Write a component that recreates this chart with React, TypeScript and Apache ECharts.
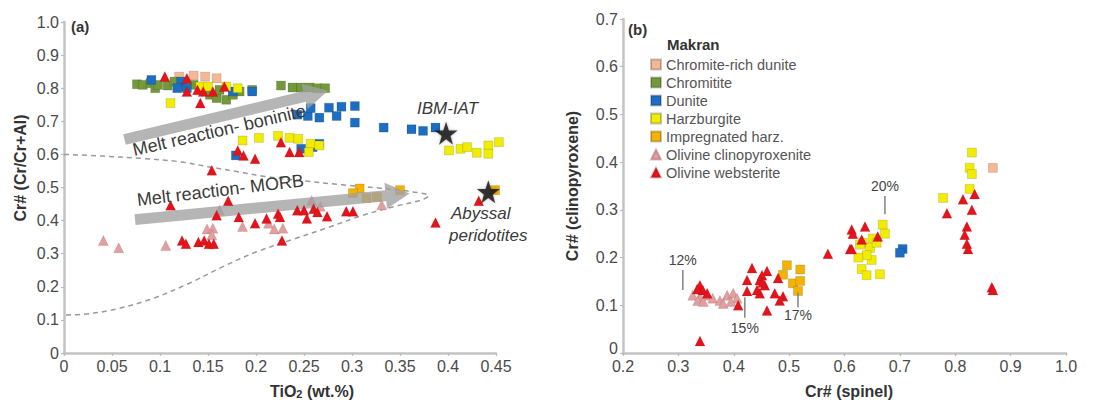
import React, { useEffect, useRef } from "react";
import * as echarts from "echarts";

const FONT = '"Liberation Sans", Arial, Helvetica, sans-serif';

// ---------- Panel (a): TiO2 (wt.%) vs Cr# (Cr/Cr+Al) ----------
const chromiteRichDuniteA = [[0.12, 0.835], [0.147, 0.835], [0.159, 0.83], [0.135, 0.838]];
const chromititeA = [
  [0.076, 0.812], [0.082, 0.81], [0.09, 0.815], [0.095, 0.8], [0.098, 0.81], [0.108, 0.808], [0.115, 0.82],
  [0.125, 0.805], [0.135, 0.81], [0.145, 0.8], [0.152, 0.78], [0.159, 0.77], [0.162, 0.795], [0.169, 0.765],
  [0.176, 0.78], [0.196, 0.795], [0.226, 0.808], [0.238, 0.802], [0.247, 0.802], [0.256, 0.802], [0.264, 0.8],
  [0.272, 0.8], [0.183, 0.79],
];
const duniteA = [
  [0.091, 0.825], [0.122, 0.82], [0.128, 0.8], [0.118, 0.8], [0.176, 0.79], [0.196, 0.79], [0.179, 0.597],
  [0.276, 0.741], [0.289, 0.744], [0.303, 0.746], [0.254, 0.716], [0.266, 0.711], [0.284, 0.716], [0.303, 0.696],
  [0.333, 0.681], [0.362, 0.676], [0.374, 0.671], [0.387, 0.681], [0.259, 0.622], [0.266, 0.632], [0.247, 0.617],
  [0.257, 0.74], [0.243, 0.72],
];
const harzburgiteA = [
  [0.111, 0.755], [0.142, 0.805], [0.15, 0.805], [0.169, 0.805], [0.181, 0.8], [0.186, 0.642], [0.203, 0.65],
  [0.223, 0.656], [0.235, 0.65], [0.244, 0.647], [0.257, 0.632], [0.255, 0.607], [0.266, 0.627],
  [0.401, 0.612], [0.413, 0.617], [0.42, 0.622], [0.43, 0.605], [0.442, 0.627], [0.442, 0.602], [0.453, 0.637],
];
const impregnatedA = [[0.308, 0.497], [0.301, 0.483], [0.35, 0.492], [0.449, 0.492], [0.315, 0.468], [0.326, 0.471]];
const olClinopyroxeniteA = [
  [0.041, 0.34], [0.057, 0.318], [0.106, 0.325], [0.149, 0.375], [0.155, 0.377], [0.154, 0.357], [0.162, 0.431],
  [0.186, 0.382], [0.213, 0.392], [0.219, 0.375], [0.228, 0.377], [0.258, 0.461], [0.267, 0.443], [0.331, 0.448],
];
const olWebsteriteA = [
  [0.105, 0.835], [0.128, 0.83], [0.128, 0.79], [0.139, 0.795], [0.145, 0.79], [0.155, 0.79], [0.167, 0.805],
  [0.142, 0.755], [0.181, 0.612], [0.187, 0.597], [0.199, 0.587], [0.226, 0.637], [0.235, 0.607], [0.245, 0.607],
  [0.154, 0.552], [0.111, 0.446], [0.171, 0.46], [0.159, 0.416], [0.182, 0.411], [0.199, 0.392], [0.211, 0.406],
  [0.223, 0.421], [0.225, 0.411], [0.243, 0.431], [0.25, 0.431], [0.253, 0.406], [0.26, 0.436], [0.264, 0.426],
  [0.274, 0.413], [0.294, 0.428], [0.301, 0.428], [0.123, 0.34], [0.127, 0.33], [0.14, 0.335], [0.146, 0.34],
  [0.151, 0.33], [0.156, 0.33], [0.227, 0.34], [0.387, 0.394], [0.432, 0.46],
];
const starsA = [[0.398, 0.664], [0.442, 0.487]];
const meltArrowsA = [
  [0.063, 0.645, 0.275, 0.792],
  [0.074, 0.403, 0.36, 0.482],
];
const envelopeA = [
  [0, 0.6], [0.04, 0.595], [0.08, 0.588], [0.12, 0.578], [0.15, 0.563], [0.18, 0.548], [0.21, 0.533],
  [0.25, 0.52], [0.29, 0.508], [0.33, 0.498], [0.36, 0.488], [0.38, 0.475], [0.372, 0.462], [0.345, 0.443],
  [0.31, 0.415], [0.276, 0.38], [0.24, 0.345], [0.2, 0.305], [0.165, 0.26], [0.13, 0.21], [0.09, 0.162],
  [0.05, 0.13], [0.02, 0.117], [0, 0.115],
];

// ---------- Panel (b): Cr# (spinel) vs Cr# (clinopyroxene) ----------
const chromiteRichDuniteB = [[0.868, 0.388]];
const duniteB = [[0.705, 0.218], [0.7, 0.21]];
const harzburgiteB = [
  [0.669, 0.269], [0.673, 0.25], [0.651, 0.24], [0.633, 0.231], [0.628, 0.227], [0.646, 0.22], [0.658, 0.231],
  [0.649, 0.195], [0.631, 0.176], [0.64, 0.163], [0.664, 0.165], [0.64, 0.205], [0.625, 0.2],
  [0.83, 0.42], [0.826, 0.388], [0.83, 0.375], [0.826, 0.344], [0.778, 0.325],
];
const impregnatedB = [[0.496, 0.184], [0.52, 0.175], [0.489, 0.164], [0.507, 0.146], [0.52, 0.151], [0.516, 0.13]];
const olClinopyroxeniteB = [
  [0.326, 0.121], [0.339, 0.117], [0.352, 0.121], [0.362, 0.115], [0.335, 0.11], [0.375, 0.11],
  [0.388, 0.121], [0.399, 0.125], [0.406, 0.115], [0.381, 0.104], [0.345, 0.108], [0.395, 0.108],
];
const olWebsteriteB = [
  [0.339, 0.142], [0.344, 0.132], [0.352, 0.125], [0.334, 0.134], [0.433, 0.178], [0.424, 0.153], [0.424, 0.13],
  [0.408, 0.1], [0.447, 0.153], [0.447, 0.125], [0.46, 0.172], [0.46, 0.089], [0.48, 0.157], [0.474, 0.125],
  [0.489, 0.119], [0.483, 0.11], [0.451, 0.163], [0.456, 0.142], [0.442, 0.132], [0.452, 0.148], [0.339, 0.025],
  [0.57, 0.208], [0.61, 0.218], [0.613, 0.259], [0.615, 0.25], [0.637, 0.265], [0.631, 0.238], [0.66, 0.244],
  [0.613, 0.218], [0.814, 0.322], [0.835, 0.333], [0.83, 0.3], [0.785, 0.293], [0.821, 0.265], [0.817, 0.248],
  [0.821, 0.229], [0.823, 0.218], [0.866, 0.138], [0.868, 0.132],
];
const meltingLabels = ["12%", "15%", "17%", "20%"];
const meltingX = [0.308, 0.42, 0.516, 0.673];
const meltingLineTop = [0.174, 0.117, 0.127, 0.329];
const meltingLineBottom = [0.132, 0.074, 0.096, 0.291];
const meltingTextY = [0.195, 0.053, 0.079, 0.35];

const legendNames = [
  "Chromite-rich dunite", "Chromitite", "Dunite", "Harzburgite", "Impregnated harz.",
  "Olivine clinopyroxenite", "Olivine websterite",
];
const xTicksA = { min: 0, max: 0.45, interval: 0.05 };
const yTicksA = { min: 0, max: 1, interval: 0.1 };
const xTicksB = { min: 0.2, max: 1.0, interval: 0.1 };
const yTicksB = { min: 0, max: 0.7, interval: 0.1 };

const COL = {
  chromRich: "#f6b894",
  chromitite: "#72993a",
  dunite: "#1d6ec2",
  harz: "#f1ec00",
  impreg: "#f3b300",
  olCpx: "#dea0a0",
  olWeb: "#e3141b",
};

const STAR = "path://M50,0 L61.8,35.1 L98.9,35.1 L68.8,57.3 L79.4,92.7 L50,71 L20.6,92.7 L31.2,57.3 L1.1,35.1 L38.2,35.1 Z";

function square(name: string, data: number[][], color: string, idx: number) {
  return {
    type: "scatter", name, data, xAxisIndex: idx, yAxisIndex: idx, symbol: "rect", symbolSize: 9, clip: false,
    itemStyle: { color, borderColor: "rgba(0,0,0,0.22)", borderWidth: 0.6, opacity: 1 }, z: 2, silent: true,
  };
}
function triangle(name: string, data: number[][], color: string, idx: number, z: number) {
  return {
    type: "scatter", name, data, xAxisIndex: idx, yAxisIndex: idx, symbol: "triangle", symbolSize: 10, clip: false,
    itemStyle: { color, borderColor: "rgba(120,0,0,0.25)", borderWidth: 0.5, opacity: 1 }, z, silent: true,
  };
}

function axisCommon(fmt: (v: number) => string, rich: any = undefined) {
  return {
    type: "value",
    axisLine: { show: true, onZero: false, lineStyle: { color: "#c3c3c3", width: 2.5 } },
    axisTick: { show: true, length: 3, lineStyle: { color: "#bbb", width: 1.2 } },
    splitLine: { show: false },
    axisLabel: { color: "#4a4a4a", fontSize: 16, fontFamily: FONT, margin: 5, formatter: fmt, rich },
  };
}

export default function App() {
  const ref = useRef<HTMLDivElement>(null);
  useEffect(() => {
    const chart = echarts.init(ref.current!, null, { renderer: "svg" });
    const arrowRender = (params: any, api: any) => {
      const p1 = api.coord([api.value(0), api.value(1)]);
      const p2 = api.coord([api.value(2), api.value(3)]);
      const dx = p2[0] - p1[0], dy = p2[1] - p1[1];
      const len = Math.hypot(dx, dy);
      const ux = dx / len, uy = dy / len;
      const nx = -uy, ny = ux;
      const hw = 5.5, headLen = 24, headW = 13;
      const bx = p2[0] - ux * headLen, by = p2[1] - uy * headLen;
      const pts = [
        [p1[0] + nx * hw, p1[1] + ny * hw],
        [bx + nx * hw, by + ny * hw],
        [bx + nx * headW, by + ny * headW],
        [p2[0], p2[1]],
        [bx - nx * headW, by - ny * headW],
        [bx - nx * hw, by - ny * hw],
        [p1[0] - nx * hw, p1[1] - ny * hw],
      ];
      return { type: "polygon", shape: { points: pts }, style: { fill: "rgba(160,160,160,0.78)" } };
    };
    const meltRender = (params: any, api: any) => {
      const i = params.dataIndex;
      const a = api.coord([api.value(0), api.value(1)]);
      const b = api.coord([api.value(0), api.value(2)]);
      const t = api.coord([api.value(0), api.value(3)]);
      return {
        type: "group",
        children: [
          { type: "line", shape: { x1: a[0], y1: a[1], x2: b[0], y2: b[1] }, style: { stroke: "#8a8a8a", lineWidth: 1.6 } },
          {
            type: "text", x: t[0], y: t[1],
            style: {
              text: meltingLabels[i], fill: "#444", font: `14px ${FONT}`,
              align: "center", verticalAlign: "middle", textAlign: "center", textVerticalAlign: "middle",
            },
          },
        ],
      };
    };
    const meltData = meltingX.map((x, i) => [x, meltingLineTop[i], meltingLineBottom[i], meltingTextY[i]]);
    const txt = (x: number, y: number, text: string, font: string, extra: any = {}) => ({
      type: "text", x, y, silent: true, z: 50, ...extra,
      style: { text, font, fill: "#333", align: "left", verticalAlign: "middle", textAlign: "left", textVerticalAlign: "middle", ...(extra.style || {}) },
    });

    const option: any = {
      animation: false,
      textStyle: { fontFamily: FONT },
      grid: [
        { left: 64, top: 22, width: 432, height: 331 },
        { left: 623, top: 19, width: 443, height: 334 },
      ],
      xAxis: [
        { gridIndex: 0, ...xTicksA, ...axisCommon((v) => (v === 0 ? "0" : String(+v.toFixed(2)))) },
        { gridIndex: 1, ...xTicksB, ...axisCommon((v) => v.toFixed(1)) },
      ],
      yAxis: [
        { gridIndex: 0, ...yTicksA, ...axisCommon((v) => (v === 0 ? "0" : v.toFixed(1))) },
        {
          gridIndex: 1, ...yTicksB,
          ...axisCommon((v) => (v === 0 ? "{z|0}" : v.toFixed(1)), {
            z: { fontSize: 16, color: "#4a4a4a", fontFamily: FONT, padding: [0, 0, 10, 0] },
          }),
          name: "Cr# (clinopyroxene)", nameLocation: "middle", nameGap: 43,
          nameTextStyle: { fontSize: 16, fontWeight: "bold", color: "#333", fontFamily: FONT },
        },
      ],
      legend: {
        data: legendNames, orient: "vertical", left: 650, top: 57, itemWidth: 10, itemHeight: 10, itemGap: 3,
        padding: 0, selectedMode: false,
        textStyle: { fontSize: 14.5, color: "#555", fontFamily: FONT, lineHeight: 15 },
      },
      series: [
        {
          type: "line", data: envelopeA, xAxisIndex: 0, yAxisIndex: 0, smooth: 0.35, symbol: "none", silent: true, z: 1,
          lineStyle: { color: "#9a9a9a", width: 1.5, type: [5, 4] },
        },
        square("Chromite-rich dunite", chromiteRichDuniteA, COL.chromRich, 0),
        square("Chromitite", chromititeA, COL.chromitite, 0),
        square("Dunite", duniteA, COL.dunite, 0),
        square("Harzburgite", harzburgiteA, COL.harz, 0),
        square("Impregnated harz.", impregnatedA, COL.impreg, 0),
        triangle("Olivine clinopyroxenite", olClinopyroxeniteA, COL.olCpx, 0, 2),
        {
          type: "custom", data: meltArrowsA, xAxisIndex: 0, yAxisIndex: 0, renderItem: arrowRender, silent: true,
          encode: { x: [0, 2], y: [1, 3] }, z: 3, clip: false,
        },
        triangle("Olivine websterite", olWebsteriteA, COL.olWeb, 0, 4),
        {
          type: "scatter", data: starsA, xAxisIndex: 0, yAxisIndex: 0, symbol: STAR, symbolSize: 23, silent: true, z: 5,
          itemStyle: { color: "#111", shadowBlur: 3, shadowColor: "rgba(0,0,0,0.4)" },
        },
        square("Chromite-rich dunite", chromiteRichDuniteB, COL.chromRich, 1),
        square("Dunite", duniteB, COL.dunite, 1),
        square("Harzburgite", harzburgiteB, COL.harz, 1),
        square("Impregnated harz.", impregnatedB, COL.impreg, 1),
        triangle("Olivine clinopyroxenite", olClinopyroxeniteB, COL.olCpx, 1, 2),
        triangle("Olivine websterite", olWebsteriteB, COL.olWeb, 1, 4),
        {
          type: "custom", data: meltData, xAxisIndex: 1, yAxisIndex: 1, renderItem: meltRender, silent: true,
          encode: { x: 0, y: [1, 2] }, z: 6, clip: false,
        },
      ],
      graphic: [
        txt(71, 26, "(a)", `bold 15px ${FONT}`),
        txt(628, 29, "(b)", `bold 15px ${FONT}`),
        txt(667, 44, "Makran", `bold 15px ${FONT}`),
        txt(20, 168, "Cr# (Cr/Cr+Al)", `bold 16px ${FONT}`, {
          rotation: Math.PI / 2,
          style: { align: "center", textAlign: "center" },
        }),
        {
          type: "text", x: 312, y: 391, silent: true,
          style: {
            text: "{a|TiO}{b|2}{a| (wt.%)}", align: "center", verticalAlign: "middle", textAlign: "center", textVerticalAlign: "middle",
            rich: {
              a: { font: `bold 16px ${FONT}`, fill: "#333", color: "#333" },
              b: { font: `bold 11px ${FONT}`, fill: "#333", color: "#333", padding: [5, 0, 0, 0] },
            },
          },
        },
        txt(849, 391, "Cr# (spinel)", `bold 16px ${FONT}`, { style: { align: "center", textAlign: "center" } }),
        txt(135, 159, "Melt reaction- boninite", `18px ${FONT}`, {
          rotation: (13 * Math.PI) / 180,
          style: { verticalAlign: "bottom", textVerticalAlign: "bottom", fill: "#3a3a3a" },
        }),
        txt(138, 209, "Melt reaction- MORB", `18px ${FONT}`, {
          rotation: (6.8 * Math.PI) / 180,
          style: { verticalAlign: "bottom", textVerticalAlign: "bottom", fill: "#3a3a3a" },
        }),
        txt(417, 108, "IBM-IAT", `italic 17px ${FONT}`, { style: { fill: "#3a3a3a" } }),
        txt(451, 213, "Abyssal", `italic 17px ${FONT}`, { style: { fill: "#3a3a3a" } }),
        txt(449, 235, "peridotites", `italic 17px ${FONT}`, { style: { fill: "#3a3a3a" } }),
      ],
    };
    chart.setOption(option);
    return () => chart.dispose();
  }, []);
  return (
    <div
      ref={ref}
      style={{ position: "fixed", left: 0, top: 0, width: 1103, height: 403, background: "#fff" }}
    />
  );
}
